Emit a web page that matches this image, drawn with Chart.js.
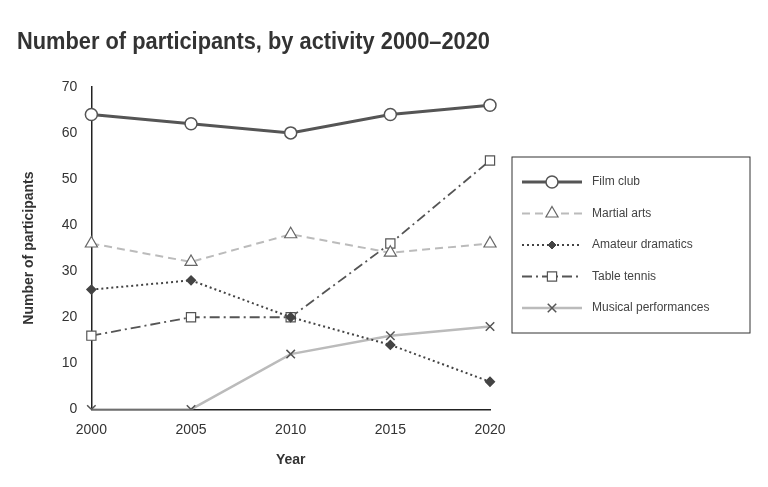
<!DOCTYPE html>
<html>
<head>
<meta charset="utf-8">
<script src="https://cdn.jsdelivr.net/npm/chart.js@4"></script>
<style>
  body { margin: 0; background: #fff; }
  #wrap { width: 768px; height: 487px; }
</style>
</head>
<body>
<div id="wrap"><canvas id="c"></canvas></div>
<script>
const years = ['2000', '2005', '2010', '2015', '2020'];
const filmClub = [64, 62, 60, 64, 66];
const martialArts = [36, 32, 38, 34, 36];
const amateurDramatics = [26, 28, 20, 14, 6];
const tableTennis = [16, 20, 20, 36, 54];
const musicalPerformances = [0, 0, 12, 16, 18];

const datasets = [
  { label: 'Film club', data: filmClub, borderColor: '#555', borderWidth: 3, pointStyle: 'circle', pointRadius: 6, pointBackgroundColor: '#fff', pointBorderColor: '#555', pointBorderWidth: 1.5 },
  { label: 'Martial arts', data: martialArts, borderColor: '#bbb', borderWidth: 2, borderDash: [8, 5], pointStyle: 'triangle', pointRadius: 7, pointBackgroundColor: '#fff', pointBorderColor: '#666', pointBorderWidth: 1.2 },
  { label: 'Amateur dramatics', data: amateurDramatics, borderColor: '#444', borderWidth: 2, borderDash: [2, 3], pointStyle: 'rectRot', pointRadius: 4, pointBackgroundColor: '#444', pointBorderColor: '#444' },
  { label: 'Table tennis', data: tableTennis, borderColor: '#555', borderWidth: 1.8, borderDash: [10, 4, 2, 4], pointStyle: 'rect', pointRadius: 6.5, pointBackgroundColor: '#fff', pointBorderColor: '#555', pointBorderWidth: 1.2 },
  { label: 'Musical performances', data: musicalPerformances, borderColor: '#bbb', borderWidth: 2.5, pointStyle: 'crossRot', pointRadius: 6, pointBorderColor: '#555', pointBorderWidth: 1.5 }
].map(d => Object.assign({ fill: false, tension: 0 }, d));

// legend box drawn on the right side
const boxLegend = {
  id: 'boxLegend',
  afterDraw(chart) {
    const ctx = chart.ctx;
    const x0 = 512, y0 = 157, w = 238, h = 176;
    ctx.save();
    ctx.strokeStyle = '#333';
    ctx.lineWidth = 1;
    ctx.strokeRect(x0, y0, w, h);
    chart.data.datasets.forEach((ds, i) => {
      const y = y0 + 25 + i * 31.5;
      ctx.strokeStyle = ds.borderColor;
      ctx.lineWidth = ds.borderWidth;
      ctx.setLineDash(ds.borderDash || []);
      ctx.beginPath();
      ctx.moveTo(x0 + 10, y);
      ctx.lineTo(x0 + 70, y);
      ctx.stroke();
      ctx.setLineDash([]);
      ctx.fillStyle = ds.pointBackgroundColor || '#fff';
      ctx.strokeStyle = ds.pointBorderColor;
      ctx.lineWidth = ds.pointBorderWidth || 1;
      Chart.helpers.drawPoint(ctx, { pointStyle: ds.pointStyle, radius: ds.pointRadius, borderWidth: ds.pointBorderWidth || 1 }, x0 + 40, y);
      ctx.fillStyle = '#444';
      ctx.font = '12px "Liberation Sans", Arial, sans-serif';
      ctx.textBaseline = 'middle';
      ctx.fillText(ds.label, x0 + 80, y);
    });
    ctx.restore();
  }
};

new Chart(document.getElementById('c'), {
  type: 'line',
  data: { labels: years, datasets },
  plugins: [boxLegend],
  options: {
    responsive: true,
    maintainAspectRatio: false,
    animation: false,
    layout: { padding: { left: 17, right: 278, top: 10, bottom: 14 } },
    plugins: {
      legend: { display: false },
      tooltip: { enabled: false },
      title: {
        display: true,
        text: 'Number of participants, by activity 2000–2020',
        color: '#333',
        font: { family: '"Liberation Sans", Arial, sans-serif', size: 24, weight: 'bold' },
        padding: { top: 18, bottom: 30 },
        align: 'center',
        fullSize: true
      }
    },
    scales: {
      x: {
        offset: false,
        grid: { display: false, drawTicks: true },
        border: { color: '#222', width: 1.5 },
        ticks: { color: '#333', font: { family: '"Liberation Sans", Arial, sans-serif', size: 14 }, padding: 4 },
        title: { display: true, text: 'Year', color: '#333', font: { family: '"Liberation Sans", Arial, sans-serif', size: 14, weight: 'bold' }, padding: { top: 10 } }
      },
      y: {
        min: 0, max: 70,
        ticks: { stepSize: 10, color: '#333', font: { family: '"Liberation Sans", Arial, sans-serif', size: 14 }, padding: 6 },
        grid: { display: false, drawTicks: true },
        border: { color: '#222', width: 1.5 },
        title: { display: true, text: 'Number of participants', color: '#333', font: { family: '"Liberation Sans", Arial, sans-serif', size: 14, weight: 'bold' }, padding: { bottom: 18 } }
      }
    }
  }
});
</script>
</body>
</html>
